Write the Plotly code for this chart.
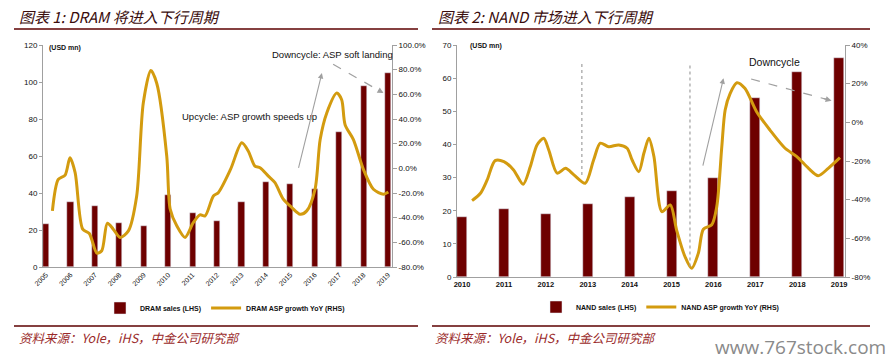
import plotly.graph_objects as go

# ---------------- DATA ----------------
dram_years = [2005, 2006, 2007, 2008, 2009, 2010, 2011, 2012, 2013, 2014, 2015, 2016, 2017, 2018, 2019]
dram_sales = [23, 35, 33, 24, 22, 39, 29, 25, 35, 46, 45, 42, 73, 98, 105]
dram_asp_x = [2005.26, 2005.50, 2005.78, 2005.98, 2006.19, 2006.50, 2006.77, 2007.08, 2007.28, 2007.51,
              2007.75, 2008.03, 2008.37, 2008.71, 2008.98, 2009.29, 2009.53, 2009.94, 2010.08, 2010.35,
              2010.69, 2011.03, 2011.30, 2011.51, 2011.85, 2012.05, 2012.55, 2013.01, 2013.28, 2013.55,
              2013.76, 2014.10, 2014.37, 2014.71, 2015.06, 2015.40, 2015.67, 2016.01, 2016.22, 2016.49,
              2016.90, 2017.10, 2017.24, 2017.58, 2017.99, 2018.40, 2018.81, 2019.01]
dram_asp_y = [-34.5, -9, -5.5, 8.5, -3.5, -49.3, -52.8, -68.7, -66.8, -44.5,
              -49.3, -56, -50.7, -22.4, 53, 79.3, 69, 10, -33, -46.6,
              -56, -43.9, -37.7, -38.5, -22.4, -19.7, -0.9, 20.7, 13.9, 1.8,
              0.5, -6.3, -11.6, -25, -31.8, -37.2, -34.5, -17, 23.3, 44.9,
              61, 55.6, 35.4, 23.3, -0.9, -17, -21, -19.2]

nand_years = [2010, 2011, 2012, 2013, 2014, 2015, 2016, 2017, 2018, 2019]
nand_sales = [18, 20.4, 19, 22, 24, 26, 30, 54, 62, 66]
nand_asp_x = [2010.24, 2010.44, 2010.60, 2010.79, 2011.00, 2011.23, 2011.46, 2011.63, 2011.79, 2011.95,
              2012.07, 2012.27, 2012.47, 2012.67, 2012.94, 2013.14, 2013.30, 2013.50, 2013.74, 2013.94,
              2014.06, 2014.22, 2014.34, 2014.46, 2014.58, 2014.77, 2014.97, 2015.12, 2015.32, 2015.48,
              2015.64, 2015.76, 2015.96, 2016.08, 2016.20, 2016.28, 2016.40, 2016.56, 2016.75, 2017.03,
              2017.35, 2017.71, 2017.99, 2018.27, 2018.50, 2018.74, 2019.02]
nand_asp_y = [-40.5, -36.7, -29.8, -19.8, -20.3, -24.6, -32, -22.9, -11.7, -8.2,
              -14.3, -26.3, -23.8, -27.2, -31.5, -19.5, -10.8, -12.6, -11.7, -13.4,
              -19.5, -25.5, -16, -8.2, -17.7, -46.2, -42.7, -55.6, -69.4, -75.5,
              -67.7, -55.3, -53, -43.6, -12.6, 6.4, 15, 20.5, 17.6, 5.5,
              -4, -13.4, -17.7, -23.8, -27.6, -23.8, -18.3]

dram_lhs_ticks = [0, 20, 40, 60, 80, 100, 120]
dram_rhs_ticks = [-80, -60, -40, -20, 0, 20, 40, 60, 80, 100]
dram_rhs_labels = ["-80.0%", "-60.0%", "-40.0%", "-20.0%", "0.0%", "20.0%", "40.0%", "60.0%", "80.0%", "100.0%"]
nand_lhs_ticks = [0, 10, 20, 30, 40, 50, 60, 70]
nand_rhs_ticks = [-80, -60, -40, -20, 0, 20, 40]
nand_rhs_labels = ["-80%", "-60%", "-40%", "-20%", "0%", "20%", "40%"]

title1 = "图表 1: DRAM 将进入下行周期"
title2 = "图表 2: NAND 市场进入下行周期"
source_text = "资料来源：Yole，iHS，中金公司研究部"

# ---------------- STYLE ----------------
W, H = 894, 363
BAR = "#6E0000"
GOLD = "#D39B0F"
AX = "#A0A0A0"
FONT = "Liberation Sans"
CJK = "Noto Sans CJK SC"

def px(x):
    return x / W

def py(y):
    return (H - y) / H

fig = go.Figure()

fig.add_trace(go.Bar(x=dram_years, y=dram_sales, width=0.25, marker_color=BAR,
                     name="DRAM sales (LHS)", xaxis="x", yaxis="y", legend="legend"))
fig.add_trace(go.Scatter(x=dram_asp_x, y=dram_asp_y, mode="lines",
                         line=dict(color=GOLD, width=3, shape="spline", smoothing=0.8),
                         name="DRAM ASP growth YoY (RHS)", xaxis="x", yaxis="y2", legend="legend"))
fig.add_trace(go.Bar(x=nand_years, y=nand_sales, width=0.24, marker_color=BAR,
                     name="NAND sales (LHS)", xaxis="x2", yaxis="y3", legend="legend2"))
fig.add_trace(go.Scatter(x=nand_asp_x, y=nand_asp_y, mode="lines",
                         line=dict(color=GOLD, width=3, shape="spline", smoothing=0.8),
                         name="NAND ASP growth YoY (RHS)", xaxis="x2", yaxis="y4", legend="legend2"))

tickfont = dict(family=FONT, size=8, color="#111")
common = dict(showgrid=False, zeroline=False, automargin=False, showline=True,
              linecolor=AX, linewidth=1)

fig.update_layout(
    width=W, height=H, autosize=False,
    margin=dict(l=0, r=0, t=0, b=0, pad=0, autoexpand=False),
    paper_bgcolor="white", plot_bgcolor="white",
    showlegend=True, bargap=0,
    xaxis=dict(domain=[px(43), px(392)], range=[2004.875, 2019.16], anchor="y",
               tickvals=dram_years, ticktext=[str(v) for v in dram_years], tickangle=-45,
               tickfont=dict(family=FONT, size=7, color="#111"), ticks="", **common),
    yaxis=dict(domain=[py(267), py(45)], range=[0, 120], tickvals=dram_lhs_ticks,
               tickfont=tickfont, ticks="outside", ticklen=3, tickcolor=AX, **common),
    yaxis2=dict(overlaying="y", side="right", anchor="x", range=[-80, 100],
                tickvals=dram_rhs_ticks, ticktext=dram_rhs_labels,
                tickfont=tickfont, ticks="outside", ticklen=4, tickcolor=AX, **common),
    xaxis2=dict(domain=[px(457), px(845)], range=[2009.88, 2019.14], anchor="y3",
                tickvals=nand_years, ticktext=[str(v) for v in nand_years],
                tickfont=dict(family=FONT, size=7.5, color="#111", weight="bold"), ticks="", **common),
    yaxis3=dict(domain=[py(277), py(45)], range=[0, 70], tickvals=nand_lhs_ticks, anchor="x2",
                tickfont=tickfont, ticks="outside", ticklen=3, tickcolor=AX, **common),
    yaxis4=dict(overlaying="y3", side="right", anchor="x2", range=[-80, 40],
                tickvals=nand_rhs_ticks, ticktext=nand_rhs_labels,
                tickfont=tickfont, ticks="outside", ticklen=4, tickcolor=AX, **common),
    legend=dict(orientation="h", x=px(225), xanchor="center", y=py(308), yanchor="middle",
                font=dict(family=FONT, size=7, color="#111", weight="bold"), bgcolor="rgba(0,0,0,0)",
                itemwidth=30, tracegroupgap=0),
    legend2=dict(orientation="h", x=px(660), xanchor="center", y=py(307), yanchor="middle",
                 font=dict(family=FONT, size=7, color="#111", weight="bold"), bgcolor="rgba(0,0,0,0)",
                 itemwidth=30, tracegroupgap=0),
)

shapes = []
for x0, x1 in [(14, 418), (432, 870)]:
    for yy in (29, 326):
        shapes.append(dict(type="line", xref="paper", yref="paper", x0=px(x0), x1=px(x1),
                           y0=py(yy), y1=py(yy), line=dict(color="#5C0000", width=1.3)))
shapes.append(dict(type="line", xref="x", yref="y2", x0=2016.75, y0=84.4, x1=2018.75, y1=61.7,
                   line=dict(color=AX, width=1.2, dash="dash")))
shapes.append(dict(type="line", xref="x2", yref="y4", x0=2016.90, y0=22.4, x1=2018.75, y1=11.6,
                   line=dict(color=AX, width=1.2, dash="dash")))
shapes.append(dict(type="line", xref="x2", yref="y4", x0=2012.86, x1=2012.86, y0=-27.2, y1=31.4,
                   line=dict(color=AX, width=1.2, dash="dot")))
shapes.append(dict(type="line", xref="x2", yref="y4", x0=2015.44, x1=2015.44, y0=-74.6, y1=29.7,
                   line=dict(color=AX, width=1.2, dash="dot")))
fig.update_layout(shapes=shapes)

ann = []
ann.append(dict(text=title1, xref="paper", yref="paper", x=px(17), y=py(16), xanchor="left",
                yanchor="middle", showarrow=False,
                font=dict(family=CJK, size=15, color="#3A0C0C", style="italic")))
ann.append(dict(text=title2, xref="paper", yref="paper", x=px(436), y=py(16), xanchor="left",
                yanchor="middle", showarrow=False,
                font=dict(family=CJK, size=15, color="#3A0C0C", style="italic")))
for xx in (17, 433):
    ann.append(dict(text=source_text, xref="paper", yref="paper", x=px(xx), y=py(337),
                    xanchor="left", yanchor="middle", showarrow=False,
                    font=dict(family=CJK, size=12.5, color="#9A2A2A", style="italic")))
ann.append(dict(text="www.767stock.com", xref="paper", yref="paper", x=px(800), y=py(347),
                xanchor="center", yanchor="middle", showarrow=False,
                font=dict(family="Open Sans", size=19, color="#8A8A8A")))
ann.append(dict(text="(USD mn)", xref="paper", yref="paper", x=px(47), y=py(48), xanchor="left",
                yanchor="middle", showarrow=False,
                font=dict(family=FONT, size=7, color="#111", weight="bold")))
ann.append(dict(text="(USD mn)", xref="paper", yref="paper", x=px(468), y=py(46), xanchor="left",
                yanchor="middle", showarrow=False,
                font=dict(family=FONT, size=7, color="#111", weight="bold")))
ann.append(dict(text="Upcycle: ASP growth speeds up", xref="x", yref="y2", x=2013.33, y=41.9,
                showarrow=False, font=dict(family=FONT, size=9.5, color="#111")))
ann.append(dict(text="Downcycle: ASP soft landing", xref="x", yref="y2", x=2016.71, y=92.7,
                showarrow=False, font=dict(family=FONT, size=9.5, color="#111")))
ann.append(dict(text="Downcycle", xref="x2", yref="y4", x=2017.45, y=31.4,
                showarrow=False, font=dict(family=FONT, size=10.5, color="#111")))
ann.append(dict(text="", xref="x", yref="y2", x=2016.29, y=77.2, axref="x", ayref="y2",
                ax=2015.32, ay=-0.9, showarrow=True, arrowhead=2, arrowsize=1, arrowwidth=1.1,
                arrowcolor=AX))
ann.append(dict(text="", xref="x2", yref="y4", x=2016.24, y=22.8, axref="x2", ayref="y4",
                ax=2015.74, ay=-23.2, showarrow=True, arrowhead=2, arrowsize=1, arrowwidth=1.1,
                arrowcolor=AX))
ann.append(dict(text="", xref="x", yref="y2", x=2018.81, y=61.0, axref="x", ayref="y2",
                ax=2018.55, ay=64.0, showarrow=True, arrowhead=2, arrowsize=1, arrowwidth=1.2,
                arrowcolor=AX))
ann.append(dict(text="", xref="x2", yref="y4", x=2018.82, y=11.2, axref="x2", ayref="y4",
                ax=2018.6, ay=12.5, showarrow=True, arrowhead=2, arrowsize=1, arrowwidth=1.2,
                arrowcolor=AX))
fig.update_layout(annotations=ann)

fig.write_html("out.html", config={"displayModeBar": False},
               post_script="document.body.style.margin='0';")
